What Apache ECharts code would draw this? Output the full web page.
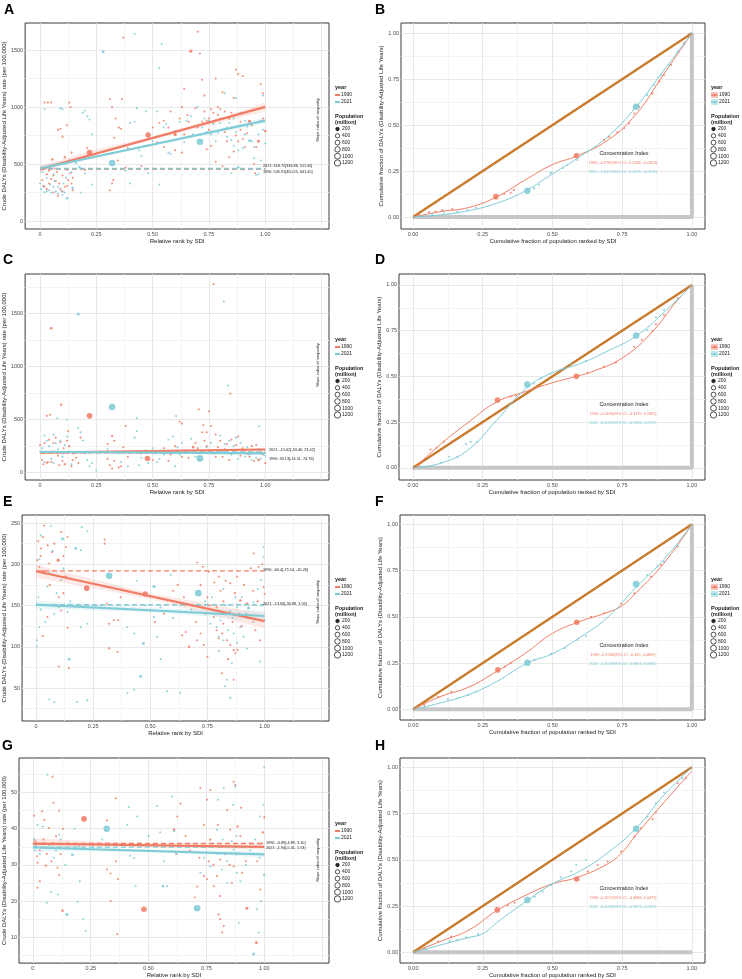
<!DOCTYPE html>
<html>
<head>
<meta charset="utf-8">
<title>DALYs inequality by SDI</title>
<script src="https://cdn.jsdelivr.net/npm/echarts@6.0.0/dist/echarts.min.js"></script>
<style>
html,body{margin:0;padding:0;background:#fff}
#main{width:742px;height:979px}
</style>
</head>
<body>
<div id="main"></div>
<script>
// ---------- tick / grid values ----------
var rankTicks = [0, 0.25, 0.5, 0.75, 1];
var rankGrid = [0, 0.125, 0.25, 0.375, 0.5, 0.625, 0.75, 0.875, 1, 1.125, 1.25];
var fracTicks = [0, 0.25, 0.5, 0.75, 1];
var fracGrid = [0, 0.125, 0.25, 0.375, 0.5, 0.625, 0.75, 0.875, 1];
var yTicksA = [0, 500, 1000, 1500];
var yGridA = [0, 250, 500, 750, 1000, 1250, 1500];
var yTicksC = [0, 500, 1000, 1500];
var yGridC = [0, 250, 500, 750, 1000, 1250, 1500, 1750];
var yTicksE = [50, 100, 150, 200, 250];
var yGridE = [25, 50, 75, 100, 125, 150, 175, 200, 225, 250];
var yTicksG = [10, 20, 30, 40, 50];
var yGridG = [5, 10, 15, 20, 25, 30, 35, 40, 45, 50, 55];
var rankSpan = [0, 1];
var popLegend = [200, 400, 600, 800, 1000, 1200];

// ---------- panel A : [rank, rate, population(million)] ----------
var ptsA1990 = [[0.01,470,20],[0.02,1040,10],[0.035,1040,10],[0.05,1040,10],[0.055,540,40],[0.06,400,15],[0.07,350,10],[0.08,800,15],[0.09,810,10],[0.1,740,20],[0.1,260,10],[0.11,560,30],[0.12,840,10],[0.12,450,10],[0.13,1040,10],[0.135,1000,10],[0.14,600,20],[0.02,300,10],[0.03,280,15],[0.04,330,10],[0.06,250,10],[0.08,220,10],[0.09,280,15],[0.11,300,10],[0.12,310,10],[0.135,420,10],[0.145,380,10],[0.065,460,10],[0.075,430,10],[0.03,410,20],[0.04,440,10],[0.01,360,10],[0.015,310,10],[0.05,370,15],[0.085,330,10],[0.1,400,10],[0.125,360,15],[0.14,330,10],[0.145,270,10],
  [0.22,600,900],[0.2,450,10],[0.21,640,10],
  [0.31,1070,10],[0.32,1000,10],[0.32,330,10],[0.31,270,10],[0.325,360,10],[0.33,730,15],[0.335,900,10],[0.35,820,20],[0.36,810,10],[0.365,1070,10],[0.37,1610,10],[0.345,530,10],[0.38,470,10],[0.39,640,10],
  [0.48,755,850],[0.45,480,10],[0.5,820,10],[0.52,690,10],[0.55,650,10],[0.57,820,10],[0.6,760,150],[0.62,900,10],[0.63,1000,10],[0.64,1160,10],[0.63,600,10],[0.655,930,10],[0.67,1490,120],[0.69,990,10],[0.7,1660,10],[0.71,1470,10],[0.72,1240,10],[0.73,1100,10],[0.74,880,10],[0.75,800,20],[0.76,980,10],[0.77,950,10],[0.78,1250,10],[0.79,1000,10],[0.8,900,10],[0.81,1130,10],[0.82,780,10],[0.83,700,10],[0.85,950,10],[0.86,1080,10],[0.87,1330,10],[0.88,1290,10],[0.89,800,10],[0.9,1270,10],[0.91,650,10],[0.93,875,150],[0.95,500,10],[0.97,700,100],[0.98,1200,10],[0.99,1120,10],[1.0,790,40],[0.76,660,10],[0.74,630,10],[0.78,520,10],[0.81,480,10],[0.84,560,10],[0.86,610,10],[0.88,700,10],[0.9,720,10],[0.955,420,10],[0.64,760,10],[0.66,870,10],[0.7,820,10],[0.72,870,10],[0.73,960,10],[0.75,900,10],[0.77,870,10],[0.79,930,10],[0.8,980,10],[0.82,960,10],[0.84,900,10],[0.85,820,10],[0.87,750,10],[0.89,870,10],[0.92,770,10],[0.94,840,10],[0.96,650,10],[0.99,900,10],[0.58,960,10],[0.6,620,10],[0.55,880,10],[0.53,860,10]];
var ptsA2021 = [[0.0,330,10],[0.005,280,10],[0.02,250,10],[0.02,980,10],[0.03,260,10],[0.04,270,10],[0.05,250,10],[0.06,300,10],[0.07,260,10],[0.08,240,10],[0.09,990,15],[0.1,230,10],[0.11,250,10],[0.12,200,60],[0.145,290,50],[0.13,530,10],[0.1,980,10],[0.16,510,10],[0.175,470,80],[0.19,950,10],[0.2,970,10],[0.21,920,10],[0.22,890,10],[0.23,760,10],[0.23,320,10],[0.18,250,10],[0.2,420,10],[0.01,430,10],[0.03,380,10],[0.045,320,10],[0.06,410,10],[0.08,300,10],[0.095,260,10],[0.115,380,10],[0.14,430,10],[0.015,300,10],[0.065,350,10],[0.105,330,10],
  [0.32,510,1300],[0.28,1485,120],[0.42,1640,10],[0.54,1550,10],[0.53,1340,10],[0.53,320,10],
  [0.38,440,10],[0.4,860,10],[0.42,870,10],[0.43,990,15],[0.44,620,10],[0.45,570,10],[0.47,960,10],[0.5,700,10],[0.52,960,10],[0.55,820,10],[0.57,600,10],[0.58,590,10],[0.6,790,10],[0.62,870,10],[0.65,880,10],[0.67,920,10],[0.7,1000,10],
  [0.71,695,1400],[0.73,900,10],[0.75,880,10],[0.77,850,10],[0.79,770,10],[0.8,860,10],[0.82,1120,10],[0.83,820,10],[0.84,860,10],[0.85,710,10],[0.86,900,10],[0.87,1080,10],[0.88,470,60],[0.89,950,10],[0.9,640,10],[0.91,760,10],[0.92,830,10],[0.93,705,100],[0.95,550,10],[0.96,400,10],[0.97,410,10],[0.98,530,10],[0.99,1100,10],[1.0,680,20],[0.85,420,10],[0.87,780,10],[0.9,450,10],[0.74,780,10],[0.76,760,10],[0.78,700,10],[0.81,800,10],[0.83,740,10],[0.86,660,10],[0.88,620,10],[0.91,880,10],[0.94,700,10],[0.97,760,10],[0.99,800,10],[0.64,690,10],[0.68,760,10],[0.72,820,10],[0.4,330,10],[0.48,420,10],[0.56,850,10],[0.95,650,10],[0.98,880,10]];
var fitA1990 = [[0, 455], [1, 1001]];
var fitA2021 = [[0, 461], [1, 880]];
var bandA1990 = [[0,428,482],[0.25,604,630],[0.5,716,740],[0.75,840,868],[1,962,1040]];
var bandA2021 = [[0,438,484],[0.25,556,576],[0.5,660,682],[0.75,762,786],[1,850,910]];
var refA = [455, 461];

// ---------- panel C ----------
var ptsC1990 = [[0.05,1360,60],[0.094,640,30],[0.03,535,10],[0.045,545,10],[0.22,535,900],[0.477,134,850],[0.77,1775,10],[0.845,745,10],[0.705,597,10],[0.75,578,10],[0.63,462,10],[0.725,447,10],[0.32,344,20],
  [0.0,260,10],[0.01,120,10],[0.02,280,10],[0.03,90,10],[0.04,310,10],[0.05,100,10],[0.06,200,10],[0.07,330,10],[0.08,160,10],[0.09,290,10],[0.1,110,10],[0.11,80,30],[0.12,300,10],[0.13,250,10],[0.14,60,10],[0.15,180,10],[0.16,140,10],[0.17,90,10],[0.18,330,10],[0.125,390,10],[0.06,280,10],[0.035,100,10],[0.015,80,10],[0.085,70,10],[0.105,230,10],[0.145,120,10],
  [0.3,270,10],[0.31,70,10],[0.32,40,10],[0.33,110,10],[0.34,200,10],[0.35,50,10],[0.36,60,10],[0.37,240,10],[0.38,440,10],[0.39,150,10],[0.3,130,10],[0.33,300,10],
  [0.45,180,10],[0.5,120,10],[0.55,230,10],[0.58,170,10],[0.6,250,10],[0.62,480,10],[0.63,150,10],[0.64,210,10],[0.66,140,10],[0.68,240,60],[0.7,230,10],[0.71,120,10],[0.72,380,10],[0.73,300,10],[0.74,250,10],[0.75,200,10],[0.76,440,10],[0.77,180,10],[0.78,360,10],[0.79,240,10],[0.8,300,10],[0.81,150,10],[0.82,220,10],[0.83,270,10],[0.84,120,10],[0.85,310,10],[0.86,190,10],[0.87,260,10],[0.88,340,10],[0.89,160,10],[0.9,230,10],[0.91,210,10],[0.92,180,40],[0.93,150,10],[0.94,250,10],[0.95,110,10],[0.96,260,10],[0.97,120,60],[0.98,200,10],[0.99,170,10],[1.0,90,10],[0.69,280,10],[0.74,380,10],[0.78,150,10],[0.83,190,10],[0.87,210,10],[0.53,200,10],[0.57,110,10]];
var ptsC2021 = [[0.17,1494,120],[0.32,619,1300],[0.71,134,1400],[0.816,1612,10],[0.835,822,10],[0.604,534,10],[0.43,515,10],[0.118,500,10],[0.077,512,10],[0.973,437,10],
  [0.0,200,10],[0.01,230,10],[0.02,350,10],[0.03,300,10],[0.04,250,10],[0.05,130,10],[0.06,360,10],[0.07,280,10],[0.08,220,10],[0.09,300,10],[0.1,180,10],[0.11,260,10],[0.12,340,10],[0.13,200,10],[0.14,80,10],[0.17,420,10],[0.18,380,10],[0.19,300,10],[0.2,180,10],[0.21,120,10],[0.22,60,10],[0.23,90,10],[0.02,100,10],[0.06,90,10],[0.1,150,10],[0.25,20,10],
  [0.3,220,10],[0.35,180,10],[0.4,200,10],[0.42,330,10],[0.43,390,10],[0.44,70,10],[0.45,140,10],[0.47,210,10],[0.5,230,10],[0.52,100,10],[0.55,170,10],[0.57,310,10],[0.59,340,10],[0.6,60,10],[0.61,240,10],[0.62,170,10],[0.63,280,10],[0.65,200,10],[0.67,320,10],[0.69,150,10],[0.74,240,10],[0.76,280,10],[0.78,210,10],[0.8,350,10],[0.81,200,10],[0.82,270,10],[0.84,300,10],[0.85,170,10],[0.86,250,10],[0.87,330,10],[0.88,130,10],[0.89,280,10],[0.9,200,10],[0.91,150,10],[0.92,240,10],[0.93,170,10],[0.94,120,10],[0.95,190,10],[0.96,140,10],[0.97,220,10],[0.98,130,10],[0.99,180,30],[1.0,160,10],[0.53,130,10],[0.48,90,10],[0.39,60,10],[0.36,100,10]];
var fitC1990 = [[0, 188], [1, 218]];
var fitC2021 = [[0, 196], [1, 181]];
var bandC1990 = [[0,176,200],[0.5,198,210],[1,202,234]];
var bandC2021 = [[0,186,206],[0.5,184,194],[1,168,194]];
var refC = [188, 194];

// ---------- panel E ----------
var ptsE1990 = [[0.01,228,10],[0.036,247,10],[0.03,233,10],[0.022,219,10],[0.051,223,10],[0.058,201,10],[0.08,225,10],[0.097,205,120],[0.11,239,10],[0.13,221,10],[0.138,233,10],[0.1,160,10],[0.015,197,10],[0.03,191,200],[0.222,171,900],[0.11,144,10],[0.138,123,10],[0.1,76,10],[0.144,74,10],[0.03,113,10],[0.05,136,10],[0.3,225,10],[0.3,230,10],[0.31,152,10],[0.32,128,10],[0.34,132,10],[0.32,98,20],[0.356,94,10],[0.36,132,10],[0.37,160,10],[0.478,164,850],[0.6,168,10],[0.647,160,10],[0.64,114,10],[0.655,118,10],[0.67,100,30],[0.72,116,10],[0.705,108,10],[0.734,102,10],[0.75,88,10],[0.705,202,10],[0.73,197,10],[0.807,168,10],[0.79,148,10],[0.807,140,10],[0.82,128,10],[0.814,116,10],[0.836,108,10],[0.85,102,10],[0.865,96,20],[0.872,92,10],[0.882,96,10],[0.865,60,10],[0.814,68,10],[0.778,136,10],[0.79,120,10],[0.75,160,10],[0.85,177,10],[0.88,185,10],[0.923,152,100],[0.952,213,10],[0.974,197,10],[0.98,108,10],[0.996,172,10],[1.0,164,10],[0.95,168,10],[0.894,156,60],[0.757,191,10],[0.12,210,10],[0.07,215,10],[0.02,210,10],[0.04,190,10],[0.06,175,10],[0.005,205,10],[0.09,150,10],[0.12,165,10],[0.13,185,10],[0.56,140,10],[0.52,130,10],[0.62,175,10],[0.68,150,10],[0.7,130,10],[0.76,150,10],[0.78,178,10],[0.8,185,10],[0.82,155,10],[0.83,180,10],[0.84,140,10],[0.86,130,10],[0.87,165,10],[0.89,140,10],[0.9,125,10],[0.91,175,10],[0.93,135,10],[0.94,195,10],[0.96,120,10],[0.97,155,10],[0.99,200,10],[0.8,110,10],[0.84,85,10],[0.74,140,10],[0.72,175,10]];
var ptsE2021 = [[0.02,235,10],[0.015,206,10],[0.065,246,10],[0.073,216,10],[0.116,231,120],[0.174,219,100],[0.196,217,10],[0.2,245,10],[0.225,240,10],[0.004,108,10],[0.004,101,10],[0.015,124,10],[0.058,36,10],[0.08,33,10],[0.145,85,100],[0.18,33,10],[0.225,35,10],[0.225,128,10],[0.196,124,10],[0.08,140,10],[0.1,148,10],[0.138,142,10],[0.05,173,10],[0.11,181,10],[0.32,186,1300],[0.516,173,120],[0.47,104,100],[0.458,64,100],[0.4,124,10],[0.43,116,10],[0.4,44,10],[0.43,48,10],[0.516,136,10],[0.545,148,10],[0.574,156,10],[0.53,112,10],[0.63,44,10],[0.574,46,10],[0.59,187,10],[0.545,85,10],[0.71,165,1400],[0.763,128,10],[0.78,140,10],[0.79,124,10],[0.8,112,10],[0.807,132,10],[0.82,108,10],[0.827,52,10],[0.835,60,10],[0.85,38,20],[0.857,80,10],[0.865,116,10],[0.88,148,10],[0.894,124,10],[0.908,112,10],[0.923,98,10],[0.93,147,120],[0.952,154,10],[0.98,82,10],[0.985,181,10],[0.996,209,10],[0.996,221,10],[1.0,132,10],[0.85,143,10],[0.872,160,10],[0.01,160,10],[0.03,150,10],[0.04,130,10],[0.06,190,10],[0.09,165,10],[0.12,195,10],[0.15,155,10],[0.02,145,10],[0.26,150,10],[0.44,180,10],[0.48,150,10],[0.6,135,10],[0.65,150,10],[0.68,145,10],[0.74,155,10],[0.77,160,10],[0.82,170,10],[0.84,120,10],[0.86,135,10],[0.88,105,10],[0.9,160,10],[0.92,140,10],[0.95,130,10],[0.97,170,10],[0.99,150,10],[0.8,95,10],[0.83,150,10]];
var fitE1990 = [[0, 191.5], [1, 131.1]];
var fitE2021 = [[0, 151], [1, 137.3]];
var bandE1990 = [[0,184,199],[0.5,158,165],[1,122,140]];
var bandE2021 = [[0,146,156],[0.5,142,147],[1,131,144]];
var refE = [192, 151];

// ---------- panel G ----------
var ptsG1990 = [[0.006,43.6,10],[0.05,42.5,10],[0.017,32.4,10],[0.02,30.6,10],[0.056,29.8,30],[0.046,37,10],[0.07,40.2,10],[0.085,54.4,10],[0.089,47.2,10],[0.1,37.9,10],[0.113,27.2,10],[0.106,29.2,10],[0.128,17.3,40],[0.113,45,10],[0.02,23.7,10],[0.03,25.5,10],[0.221,42.7,900],[0.32,42.3,10],[0.32,28.7,10],[0.336,27.6,10],[0.358,31,10],[0.358,48.4,10],[0.365,10.8,10],[0.336,20,10],[0.368,26.1,10],[0.48,17.7,850],[0.61,39.7,60],[0.624,43.4,10],[0.638,47,10],[0.724,51.2,10],[0.739,35.1,10],[0.753,48,10],[0.767,50.7,10],[0.767,37,30],[0.739,26.9,10],[0.753,26,10],[0.782,24.1,10],[0.803,16.3,10],[0.81,15,10],[0.818,11.3,10],[0.825,13.1,10],[0.81,21.4,10],[0.84,45.2,10],[0.853,39.7,10],[0.868,53,10],[0.875,52.1,10],[0.885,40.6,30],[0.897,37.9,10],[0.904,27.8,10],[0.925,18,120],[0.966,8.5,80],[0.983,23.2,10],[0.99,36,10],[0.994,39,30],[1.0,43.2,10],[0.868,29.6,10],[0.81,31.5,10],[0.796,26.9,10],[0.01,36.5,10],[0.03,34,10],[0.04,44.8,10],[0.06,33,10],[0.08,31,10],[0.09,36,10],[0.12,33,10],[0.13,40,10],[0.15,36,10],[0.7,21,10],[0.71,24,10],[0.72,32,10],[0.74,41,10],[0.76,31,10],[0.78,30,10],[0.8,41,10],[0.82,35,10],[0.83,33,10],[0.85,30,20],[0.86,25,10],[0.88,33,10],[0.9,45.8,10],[0.92,31,10],[0.94,36,10],[0.97,31,10],[0.62,33,10],[0.66,38,10],[0.68,34,10]];
var ptsG2021 = [[0.006,37,10],[0.013,35.3,10],[0.042,40.6,10],[0.063,54.9,10],[0.06,19.5,10],[0.078,22.5,10],[0.113,38.3,10],[0.109,21.8,10],[0.147,16.3,100],[0.171,32.8,80],[0.193,19.8,10],[0.218,15,10],[0.228,11.7,10],[0.203,25.5,10],[0.319,40,1300],[0.408,41.1,10],[0.415,46,10],[0.437,31.9,10],[0.451,43.4,10],[0.444,24.1,10],[0.516,35.6,10],[0.537,46.3,10],[0.566,31,10],[0.563,24.1,80],[0.58,24.1,10],[0.61,39.3,10],[0.602,48.9,10],[0.71,18,1400],[0.796,39.7,10],[0.818,28.7,10],[0.825,51.2,10],[0.865,46.6,10],[0.875,51.7,10],[0.882,27.8,10],[0.89,14,10],[0.954,5.3,80],[0.968,17.7,10],[0.976,11.3,10],[0.986,20,10],[1.0,56.9,10],[0.997,46.6,10],[1.0,27.2,30],[0.983,43.4,10],[0.868,34.2,10],[0.897,25.5,10],[0.767,29.6,10],[0.724,27.8,10],[0.01,34,10],[0.02,41,10],[0.03,33,10],[0.05,36,10],[0.07,35.5,10],[0.09,32,10],[0.1,34,10],[0.12,37,10],[0.14,30,10],[0.18,40,10],[0.2,35,10],[0.22,34.5,10],[0.26,35,10],[0.3,37,10],[0.42,32.5,10],[0.46,36,10],[0.5,38,10],[0.55,39,10],[0.62,33,10],[0.67,35,10],[0.74,32,10],[0.78,36,10],[0.8,33,10],[0.82,37,10],[0.84,31,10],[0.86,36.5,10],[0.88,38,10],[0.9,33,10],[0.92,30,10],[0.94,34,10],[0.96,37,10],[0.98,32,10],[0.84,25,10],[0.8,48,10]];
var fitG1990 = [[0, 35.9], [1, 35.0]];
var fitG2021 = [[0, 34.8], [1, 32.9]];
var bandG1990 = [[0,34.6,37.4],[0.25,35.1,36.5],[0.5,35.1,35.9],[1,34.2,35.9]];
var bandG2021 = [[0,33.8,35.8],[0.5,33.6,34.2],[1,32.1,33.7]];
var refG = [35.9, 34.9];

// ---------- concentration curves: [cum. population, cum. DALYs] ----------
var equalityLine = [[0, 0], [1, 1]];
var extremeLine = [[0, 0], [1, 0], [1, 1]];
var extremeLineH = [[0, 0], [1, 0]];

var curveB1990 = [[0,0],[0.1,0.03],[0.2,0.052],[0.3,0.11],[0.4,0.2],[0.5,0.285],[0.59,0.334],[0.7,0.42],[0.8,0.56],[0.9,0.78],[1,1]];
var curveB2021 = [[0,0],[0.1,0.012],[0.2,0.035],[0.3,0.075],[0.4,0.14],[0.5,0.235],[0.6,0.33],[0.7,0.44],[0.8,0.6],[0.9,0.8],[1,1]];
var dotsB1990 = [[0.022,0.015,10],[0.057,0.027,10],[0.081,0.029,10],[0.105,0.038,10],[0.141,0.044,10],[0.297,0.111,900],[0.327,0.125,10],[0.35,0.132,10],[0.362,0.147,20],[0.586,0.334,850],[0.685,0.419,10],[0.703,0.437,10],[0.733,0.461,10],[0.757,0.483,10],[0.775,0.51,10],[0.793,0.564,10],[0.811,0.6,10],[0.859,0.673,10],[0.883,0.737,10],[0.9,0.773,10],[0.925,0.827,10],[0.972,0.946,10]];
var dotsB2021 = [[0.028,0.005,10],[0.069,0.016,10],[0.111,0.025,10],[0.159,0.029,10],[0.195,0.038,10],[0.225,0.051,10],[0.41,0.143,1300],[0.434,0.156,10],[0.452,0.174,10],[0.494,0.241,30],[0.536,0.265,10],[0.554,0.283,10],[0.59,0.31,10],[0.626,0.356,10],[0.8,0.6,1400],[0.84,0.664,10],[0.865,0.719,10],[0.889,0.773,10],[0.919,0.827,10],[0.949,0.9,20],[0.972,0.946,10],[1,1,10]];

var curveD1990 = [[0,-0.01],[0.1,0.13],[0.2,0.25],[0.3,0.36],[0.4,0.415],[0.5,0.465],[0.586,0.5],[0.65,0.53],[0.75,0.6],[0.85,0.73],[0.95,0.92],[1,1]];
var curveD2021 = [[0,0],[0.1,0.025],[0.2,0.1],[0.3,0.26],[0.41,0.44],[0.5,0.52],[0.6,0.57],[0.7,0.64],[0.8,0.72],[0.9,0.85],[1,1]];
var dotsD1990 = [[0.02,0.01,10],[0.063,0.1,10],[0.085,0.11,10],[0.11,0.142,10],[0.14,0.145,10],[0.303,0.37,900],[0.35,0.39,10],[0.37,0.395,10],[0.586,0.5,850],[0.626,0.52,10],[0.685,0.553,10],[0.727,0.575,10],[0.793,0.662,10],[0.82,0.7,10],[0.859,0.75,10],[0.871,0.785,10],[0.9,0.836,10],[0.949,0.927,10]];
var dotsD2021 = [[0.03,0.005,10],[0.1,0.027,10],[0.13,0.06,10],[0.16,0.06,10],[0.19,0.13,10],[0.207,0.142,10],[0.23,0.142,10],[0.41,0.456,1300],[0.434,0.46,10],[0.46,0.49,10],[0.494,0.516,10],[0.536,0.538,20],[0.566,0.571,10],[0.62,0.584,10],[0.8,0.723,1400],[0.84,0.753,10],[0.871,0.823,10],[0.9,0.863,10],[0.949,0.923,10]];

var curveF1990 = [[0,0],[0.1,0.07],[0.2,0.12],[0.3,0.205],[0.4,0.3],[0.5,0.41],[0.59,0.47],[0.7,0.525],[0.75,0.56],[0.8,0.63],[0.9,0.79],[1,1]];
var curveF2021 = [[0,0],[0.1,0.035],[0.2,0.08],[0.3,0.15],[0.41,0.25],[0.5,0.3],[0.6,0.39],[0.7,0.5],[0.8,0.66],[0.9,0.81],[1,1]];
var dotsF1990 = [[0.04,0.023,10],[0.09,0.068,10],[0.137,0.095,10],[0.304,0.213,900],[0.33,0.23,10],[0.35,0.25,10],[0.587,0.47,850],[0.638,0.5,10],[0.686,0.52,10],[0.746,0.57,10],[0.794,0.627,10],[0.853,0.717,10],[0.889,0.78,10],[0.949,0.88,10]];
var dotsF2021 = [[0.04,0.01,10],[0.125,0.054,10],[0.16,0.06,10],[0.197,0.077,10],[0.227,0.095,10],[0.41,0.252,1300],[0.436,0.267,10],[0.495,0.3,10],[0.543,0.33,10],[0.59,0.375,10],[0.62,0.396,10],[0.8,0.676,1400],[0.84,0.726,10],[0.877,0.771,10],[0.9,0.798,10],[0.949,0.885,20]];

var curveH1990 = [[0,0],[0.1,0.06],[0.2,0.12],[0.3,0.225],[0.4,0.305],[0.5,0.37],[0.59,0.405],[0.7,0.48],[0.75,0.54],[0.8,0.635],[0.9,0.81],[1,0.98]];
var curveH2021 = [[0,0],[0.1,0.04],[0.2,0.08],[0.25,0.1],[0.3,0.16],[0.41,0.28],[0.5,0.37],[0.6,0.44],[0.7,0.54],[0.8,0.67],[0.9,0.85],[1,1]];
var dotsH1990 = [[0.04,0.022,10],[0.09,0.058,10],[0.137,0.085,10],[0.302,0.229,900],[0.34,0.256,10],[0.364,0.268,10],[0.587,0.396,850],[0.627,0.436,10],[0.662,0.472,10],[0.698,0.49,10],[0.746,0.544,10],[0.794,0.625,10],[0.817,0.67,10],[0.859,0.72,10],[0.871,0.755,10],[0.949,0.913,10],[0.979,0.94,10]];
var dotsH2021 = [[0.048,0.013,10],[0.131,0.061,10],[0.16,0.067,10],[0.19,0.081,10],[0.233,0.099,10],[0.41,0.283,1300],[0.436,0.3,10],[0.465,0.328,10],[0.495,0.364,10],[0.53,0.405,10],[0.567,0.436,10],[0.585,0.472,10],[0.62,0.5,10],[0.8,0.667,1400],[0.84,0.733,10],[0.871,0.805,10],[0.9,0.863,10],[0.966,0.94,10]];

// ---------- texts ----------
var sllA = ['2021: 418.72[336.86, 511.30]', '1990: 545.91[450.25, 641.45]'];
var sllC = ['2021: -15.02[-53.46, 23.42]', '1990: 30.13[-14.51, 74.76]'];
var sllE = ['1990: -60.4[-75.54, -45.26]', '2021: -13.66[-30.88, 3.56]'];
var sllG = ['1990: -0.89[-4.89, 3.10]', '2021: -1.94[-5.41, 1.53]'];
var ciB = ['1990: -0.2782(95% CI: -0.5282, -0.0613)', '2021: -0.2417(95% CI: -0.4259, -0.0647)'];
var ciD = ['1990: -0.0409(95% CI: -0.4175, 0.3361)', '2021: -0.0013(95% CI: -0.2233, 0.2215)'];
var ciF = ['1990: -0.1584(95% CI: -0.435, 0.0859)', '2021: -0.1545(95% CI: -0.3841, 0.0481)'];
var ciH = ['1990: -0.1617(95% CI: -0.4086, 0.0473)', '2021: -0.1018(95% CI: -0.3072, 0.0351)'];

// ---------- styling ----------
var RED = '#F17C65', BLUE = '#7FCCD7', ORANGE = '#C97A2C', GREY = '#C6C6C6';
var MAJ = '#E2E2E2', MIN = '#F1F1F1';
var FONT = 'Liberation Sans, Arial, sans-serif';
var Y_RATE = 'Crude DALYs (Disability-Adjusted Life Years) rate (per 100,000)';
var Y_FRAC = 'Cumulative fraction of DALYs (Disability-Adjusted Life Years)';
var X_RANK = 'Relative rank by SDI';
var X_FRAC = 'Cumulative fraction of population ranked by SDI';

var chart = echarts.init(document.getElementById('main'));

var grids = [
  {left: 24, top: 23, width: 305, height: 206},
  {left: 401, top: 23, width: 304, height: 206},
  {left: 24, top: 274, width: 305, height: 206},
  {left: 399, top: 274, width: 306, height: 206},
  {left: 21, top: 515, width: 308, height: 206},
  {left: 400, top: 515, width: 305, height: 205},
  {left: 18, top: 758, width: 311, height: 206},
  {left: 400, top: 758, width: 305, height: 205}
].map(function (g) {
  g.show = true; g.borderColor = '#3a3a3a'; g.borderWidth = 1; g.backgroundColor = '#fff'; g.containLabel = false;
  return g;
});

function rankFmt(v) { return v === 0 ? '0' : v.toFixed(2); }
function fracFmt(v) { return v.toFixed(2); }
function plainFmt(v) { return String(v); }

function axis(gi, min, max, grid, labs, fmt, name, gap) {
  return {
    gridIndex: gi, type: 'value', min: min, max: max,
    axisLine: {show: false},
    axisTick: {show: false, customValues: grid},
    axisLabel: {customValues: labs, formatter: fmt, fontSize: 5.5, color: '#4D4D4D', margin: 2, fontFamily: FONT},
    splitLine: {show: true, lineStyle: {color: labs.indexOf(grid[0]) >= 0 ? [MAJ, MIN] : [MIN, MAJ], width: 0.8}},
    name: name, nameLocation: 'middle', nameGap: gap,
    nameTextStyle: {fontSize: 6, color: '#1A1A1A', fontFamily: FONT}
  };
}

var xAxes = [
  axis(0, -0.066, 1.283, rankGrid, rankTicks, rankFmt, X_RANK, 7),
  axis(1, -0.043, 1.047, fracGrid, fracTicks, fracFmt, X_FRAC, 7),
  axis(2, -0.066, 1.283, rankGrid, rankTicks, rankFmt, X_RANK, 7),
  axis(3, -0.050, 1.047, fracGrid, fracTicks, fracFmt, X_FRAC, 7),
  axis(4, -0.061, 1.282, rankGrid, rankTicks, rankFmt, X_RANK, 7),
  axis(5, -0.047, 1.047, fracGrid, fracTicks, fracFmt, X_FRAC, 7),
  axis(6, -0.060, 1.280, rankGrid, rankTicks, rankFmt, X_RANK, 7),
  axis(7, -0.047, 1.047, fracGrid, fracTicks, fracFmt, X_FRAC, 7)
];
var yAxes = [
  axis(0, -70, 1737, yGridA, yTicksA, plainFmt, Y_RATE, 14),
  axis(1, -0.065, 1.056, fracGrid, fracTicks, fracFmt, Y_FRAC, 15),
  axis(2, -69, 1871, yGridC, yTicksC, plainFmt, Y_RATE, 14),
  axis(3, -0.067, 1.060, fracGrid, fracTicks, fracFmt, Y_FRAC, 15),
  axis(4, 10, 259.7, yGridE, yTicksE, plainFmt, Y_RATE, 12),
  axis(5, -0.058, 1.050, fracGrid, fracTicks, fracFmt, Y_FRAC, 15),
  axis(6, 2.84, 59.55, yGridG, yTicksG, plainFmt, Y_RATE, 10),
  axis(7, -0.058, 1.050, fracGrid, fracTicks, fracFmt, Y_FRAC, 15)
];

function sz(v) { return 1.6 + Math.sqrt(v[2]) * 0.135; }

function scatter(gi, data, color, z) {
  return {type: 'scatter', xAxisIndex: gi, yAxisIndex: gi, data: data, symbolSize: sz,
    itemStyle: {color: color, opacity: 0.88}, z: z || 2, silent: true};
}
function band(gi, data, color) {
  return {type: 'custom', xAxisIndex: gi, yAxisIndex: gi, data: data, encode: {x: 0, y: [1, 2]}, z: 3, silent: true,
    renderItem: function (params, api) {
      if (params.dataIndex !== 0) return null;
      var up = data.map(function (p) { return api.coord([p[0], p[2]]); });
      var lo = data.slice().reverse().map(function (p) { return api.coord([p[0], p[1]]); });
      return {type: 'polygon', shape: {points: up.concat(lo)}, style: {fill: color, opacity: 0.16}};
    }};
}
function line(gi, data, color, width, opt) {
  var s = {type: 'line', xAxisIndex: gi, yAxisIndex: gi, data: data, symbol: 'none', silent: true,
    lineStyle: {color: color, width: width}, z: 5};
  for (var k in opt) { if (k === 'lineStyle') { for (var j in opt[k]) s.lineStyle[j] = opt[k][j]; } else s[k] = opt[k]; }
  return s;
}
function refLine(gi, v, color) {
  return line(gi, [[rankSpan[0], v], [rankSpan[1], v]], color, 1.4, {lineStyle: {type: [5, 3]}, z: 4});
}

function rankPanel(gi, p90, p21, b90, b21, f90, f21, ref) {
  return [
    scatter(gi, p90, RED), scatter(gi, p21, BLUE),
    band(gi, b90, RED), band(gi, b21, BLUE),
    refLine(gi, ref[0], RED), refLine(gi, ref[1], BLUE),
    line(gi, f90, RED, 2.2), line(gi, f21, BLUE, 2.2)
  ];
}
function concPanel(gi, ext, c90, c21, d90, d21) {
  return [
    line(gi, ext, GREY, 4, {z: 2}),
    line(gi, equalityLine, ORANGE, 2.4, {z: 3}),
    line(gi, c90, RED, 1, {smooth: 0.45, z: 4}),
    line(gi, c21, BLUE, 1, {smooth: 0.45, z: 4}),
    scatter(gi, d90, RED, 5), scatter(gi, d21, BLUE, 5)
  ];
}

var series = [].concat(
  rankPanel(0, ptsA1990, ptsA2021, bandA1990, bandA2021, fitA1990, fitA2021, refA),
  concPanel(1, extremeLine, curveB1990, curveB2021, dotsB1990, dotsB2021),
  rankPanel(2, ptsC1990, ptsC2021, bandC1990, bandC2021, fitC1990, fitC2021, refC),
  concPanel(3, extremeLine, curveD1990, curveD2021, dotsD1990, dotsD2021),
  rankPanel(4, ptsE1990, ptsE2021, bandE1990, bandE2021, fitE1990, fitE2021, refE),
  concPanel(5, extremeLine, curveF1990, curveF2021, dotsF1990, dotsF2021),
  rankPanel(6, ptsG1990, ptsG2021, bandG1990, bandG2021, fitG1990, fitG2021, refG),
  concPanel(7, extremeLineH, curveH1990, curveH2021, dotsH1990, dotsH2021)
);

// ---------- graphic: letters, legends, annotations ----------
var g = [];
function txt(x, y, s, size, opt) {
  var st = {text: s, fontSize: size, fontFamily: FONT, fill: '#1A1A1A', align: 'left', verticalAlign: 'middle'};
  for (var k in opt) st[k] = opt[k];
  return {type: 'text', x: x, y: y, style: st, silent: true, z: 100};
}
[['A', 4, 10], ['B', 375, 10], ['C', 3, 260], ['D', 375, 260], ['E', 3, 502], ['F', 375, 502], ['G', 2, 746], ['H', 375, 746]]
  .forEach(function (l) { g.push(txt(l[1], l[2], l[0], 14, {fontWeight: 'bold', fill: '#000'})); });

function legend(x, y, conc) {
  g.push(txt(x, y, 'year', 5.5, {fontWeight: 'bold'}));
  [[RED, '1990'], [BLUE, '2021']].forEach(function (e, i) {
    var yy = y + 8 + 7 * i;
    if (conc) {
      g.push({type: 'rect', shape: {x: x, y: yy - 3, width: 7, height: 6}, style: {fill: e[0], opacity: 0.45}, z: 100, silent: true});
      g.push({type: 'line', shape: {x1: x, y1: yy, x2: x + 7, y2: yy}, style: {stroke: e[0], lineWidth: 1}, z: 101, silent: true});
      g.push({type: 'circle', shape: {cx: x + 3.5, cy: yy, r: 1.3}, style: {fill: e[0]}, z: 101, silent: true});
      g.push(txt(x + 8, yy, e[1], 5));
    } else {
      g.push({type: 'line', shape: {x1: x, y1: yy, x2: x + 5, y2: yy}, style: {stroke: e[0], lineWidth: 2}, z: 100, silent: true});
      g.push(txt(x + 6, yy, e[1], 5));
    }
  });
  g.push(txt(x, y + 29, 'Population', 5.5, {fontWeight: 'bold'}));
  g.push(txt(x, y + 35.5, '(million)', 5.5, {fontWeight: 'bold'}));
  popLegend.forEach(function (p, i) {
    var yy = y + 42 + 6.8 * i;
    g.push({type: 'circle', shape: {cx: x + 2.5, cy: yy, r: sz([0, 0, p]) / 2}, style: {fill: i === 0 ? '#222' : '#fff', stroke: '#222', lineWidth: 0.8}, z: 100, silent: true});
    g.push(txt(x + 7, yy, String(p), 5));
  });
}
legend(335, 87, false);
legend(711, 87, true);
legend(335, 339, false);
legend(711, 339, true);
legend(335, 579, false);
legend(711, 579, true);
legend(335, 823, false);

function slopeLabel(cy) {
  g.push(txt(318, cy, 'Slope index of inequality', 4, {align: 'center'}));
  g[g.length - 1].rotation = Math.PI / 2;
}
slopeLabel(120); slopeLabel(365); slopeLabel(602); slopeLabel(860);

function sll(x, y1, y2, t) {
  g.push(txt(x, y1, t[0], 3.8));
  g.push(txt(x, y2, t[1], 3.8));
}
sll(263, 166, 172, sllA);
sll(269, 450, 459, sllC);
sll(263, 570, 604, sllE);
sll(266, 843, 848, sllG);

function ci(y, t) {
  g.push(txt(624, y, 'Concentration Index', 5.5, {align: 'center'}));
  g.push(txt(623, y + 10, t[0], 3.8, {align: 'center', fill: RED}));
  g.push(txt(623, y + 19, t[1], 3.8, {align: 'center', fill: BLUE}));
}
ci(153, ciB); ci(404, ciD); ci(645, ciF); ci(888, ciH);

chart.setOption({
  animation: false,
  backgroundColor: '#fff',
  grid: grids,
  xAxis: xAxes,
  yAxis: yAxes,
  series: series,
  graphic: g
});
</script>
</body>
</html>
